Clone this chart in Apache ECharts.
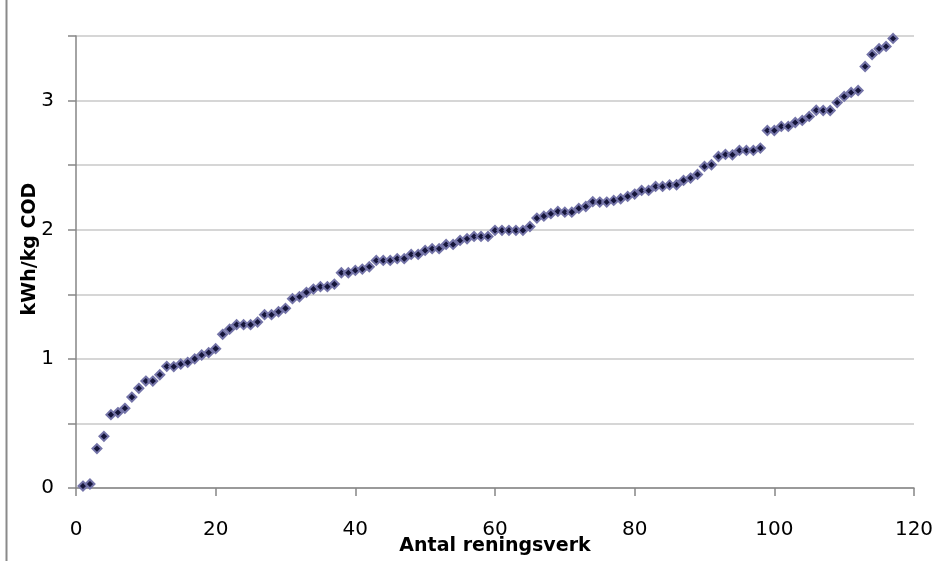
<!DOCTYPE html>
<html>
<head>
<meta charset="utf-8">
<script src="https://cdn.jsdelivr.net/npm/echarts@6/dist/echarts.min.js"></script>
<style>
html,body{margin:0;padding:0;background:#fff;}
#c{width:937px;height:561px;}
</style>
</head>
<body>
<div id="c"></div>
<script>
// Sorted values, kWh/kg COD, one per treatment plant (x = 1..117)
const values = [
  0.015, 0.031, 0.305, 0.400, 0.568, 0.584, 0.617, 0.704, 0.772, 0.828,
  0.828, 0.877, 0.942, 0.940, 0.960, 0.973, 1.000, 1.030, 1.048, 1.079,
  1.190, 1.230, 1.265, 1.265, 1.265, 1.285, 1.342, 1.342, 1.365, 1.391,
  1.466, 1.481, 1.515, 1.540, 1.559, 1.559, 1.579, 1.667, 1.667, 1.685,
  1.695, 1.713, 1.762, 1.762, 1.762, 1.776, 1.776, 1.809, 1.809, 1.840,
  1.853, 1.853, 1.886, 1.886, 1.917, 1.930, 1.948, 1.948, 1.948, 1.995,
  1.995, 1.995, 1.995, 1.995, 2.025, 2.090, 2.105, 2.124, 2.142, 2.136,
  2.136, 2.165, 2.180, 2.217, 2.214, 2.214, 2.227, 2.240, 2.258, 2.276,
  2.304, 2.304, 2.335, 2.335, 2.347, 2.348, 2.382, 2.400, 2.428, 2.490,
  2.503, 2.567, 2.583, 2.580, 2.614, 2.614, 2.614, 2.632, 2.768, 2.768,
  2.800, 2.800, 2.830, 2.846, 2.877, 2.925, 2.923, 2.923, 2.985, 3.032,
  3.063, 3.078, 3.264, 3.357, 3.401, 3.419, 3.481
];
const plantIndex = values.map((v, i) => i + 1);
const xTicks = [0, 20, 40, 60, 80, 100, 120];
const yTickLabels = [0, 1, 2, 3];
const xTitle = 'Antal reningsverk';
const yTitle = 'kWh/kg COD';

const points = plantIndex.map((x, i) => [x, values[i]]);

const chart = echarts.init(document.getElementById('c'), null, {renderer: 'canvas'});
const axisColor = '#868686';
chart.setOption({
  animation: false,
  backgroundColor: '#ffffff',
  grid: {left: 76, right: 23, top: 36, bottom: 73, containLabel: false, outerBoundsMode: 'none'},
  xAxis: {
    type: 'value',
    min: xTicks[0], max: xTicks[xTicks.length - 1], interval: 20,
    name: xTitle,
    nameLocation: 'middle',
    nameGap: 49,
    nameMoveOverlap: false,
    nameTextStyle: {fontFamily: 'DejaVu Sans', fontWeight: 'bold', fontSize: 19, color: '#000'},
    axisLine: {show: true, onZero: false, lineStyle: {color: axisColor, width: 1.5}},
    axisTick: {show: true, length: 8, inside: false, lineStyle: {color: axisColor, width: 1.5}},
    axisLabel: {margin: 32, fontFamily: 'DejaVu Sans', fontSize: 20, color: '#000',
      formatter: v => xTicks.includes(v) ? String(v) : ''},
    splitLine: {show: false}
  },
  yAxis: {
    type: 'value',
    min: 0, max: 3.5, interval: 0.5,
    axisLine: {show: true, lineStyle: {color: axisColor, width: 1.5}},
    axisTick: {show: true, length: 8, inside: false, lineStyle: {color: axisColor, width: 1.5}},
    axisLabel: {margin: 22, fontFamily: 'DejaVu Sans', fontSize: 20, color: '#000',
      formatter: v => yTickLabels.includes(v) ? String(v) : ''},
    splitLine: {show: true, lineStyle: {color: '#c8c8c8', width: 1.5}}
  },
  graphic: [
    {type: 'line', shape: {x1: 6.5, y1: 0, x2: 6.5, y2: 561}, style: {stroke: '#8a8a8a', lineWidth: 2}},
    {type: 'text', x: 30, y: 249, rotation: Math.PI / 2,
      style: {text: yTitle, fontFamily: 'DejaVu Sans', fontWeight: 'bold', fontSize: 19, fill: '#000',
        textAlign: 'center', textVerticalAlign: 'middle'}}
  ],
  series: [{
    type: 'scatter',
    data: points,
    symbol: 'diamond',
    symbolSize: 9,
    itemStyle: {color: '#15153a', borderColor: '#7474a8', borderWidth: 2, opacity: 1}
  }]
});
</script>
</body>
</html>
